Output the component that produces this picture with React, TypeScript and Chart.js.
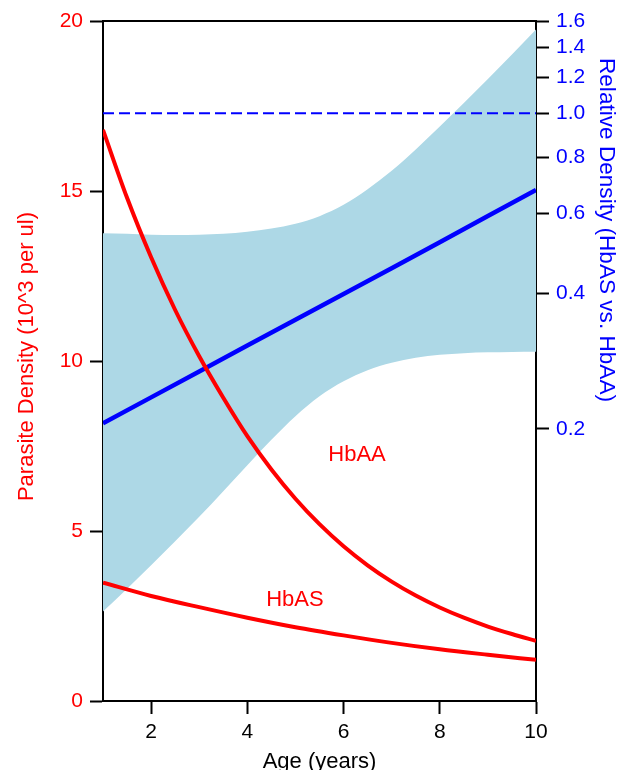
import React, { useEffect, useRef } from "react";
import { Chart, registerables } from "chart.js";

Chart.register(...registerables);

// ---- Data ----
const ages = [1, 2, 3, 4, 5, 6, 7, 8, 9, 10];
const halfAges = [1, 1.5, 2, 2.5, 3, 3.5, 4, 4.5, 5, 5.5, 6, 6.5, 7, 7.5, 8, 8.5, 9, 9.5, 10];

// Parasite density (10^3 per ul), left axis
const hbAA = [16.8, 14.8, 13.05, 11.5, 10.14, 8.92, 7.79, 6.81, 5.95, 5.2, 4.55, 3.99, 3.51, 3.1, 2.75, 2.45, 2.19, 1.97, 1.77]; // at halfAges
const hbAS = [3.48, 3.09, 2.76, 2.45, 2.17, 1.93, 1.71, 1.52, 1.36, 1.21]; // at ages

// Relative density (HbAS vs. HbAA), right log axis
const relDensity = [0.206, 0.235, 0.268, 0.306, 0.349, 0.398, 0.454, 0.518, 0.592, 0.676]; // at ages
const bandUpper = [0.5427, 0.5408, 0.5381, 0.5375, 0.5381, 0.5408, 0.5463, 0.5554, 0.5696, 0.5918, 0.6269, 0.6784, 0.7454, 0.8316, 0.935, 1.0539, 1.191, 1.349, 1.532]; // at halfAges
const bandLower = [0.0789, 0.0886, 0.0999, 0.1129, 0.1279, 0.1457, 0.1663, 0.1893, 0.2134, 0.2362, 0.255, 0.2698, 0.2803, 0.2874, 0.2919, 0.2944, 0.2956, 0.2961, 0.2964]; // at halfAges
const referenceLevel = 1.0;
const referenceAges = [1, 10];

const xTicks = [2, 4, 6, 8, 10];
const leftTicks = [0, 5, 10, 15, 20];
const rightTicks = [0.2, 0.4, 0.6, 0.8, 1.0, 1.2, 1.4, 1.6];

const curveLabels = [
  { text: "HbAA", age: 6.28, density: 7.24 },
  { text: "HbAS", age: 4.99, density: 2.97 },
];

const xTitle = "Age (years)";
const leftTitle = "Parasite Density (10^3 per ul)";
const rightTitle = "Relative Density (HbAS vs. HbAA)";

// ---- Styles ----
const RED = "rgb(255,0,0)";
const BLUE = "rgb(0,0,255)";
const BAND = "rgb(173,216,230)";
const FONT = '"Liberation Sans", Arial, sans-serif';

const toXY = (xs: number[], ys: number[]) => xs.map((a, i) => ({ x: a, y: ys[i] }));

const overlayPlugin = {
  id: "overlay",
  afterDraw(chart: any) {
    const { ctx, chartArea, scales } = chart;
    ctx.save();
    // top frame line
    ctx.strokeStyle = "black";
    ctx.lineWidth = 2;
    ctx.beginPath();
    ctx.moveTo(chartArea.left - 1, chartArea.top);
    ctx.lineTo(chartArea.right + 1, chartArea.top);
    ctx.stroke();

    // curve labels
    ctx.font = `22px ${FONT}`;
    ctx.fillStyle = RED;
    ctx.textAlign = "center";
    ctx.textBaseline = "middle";
    curveLabels.forEach((l) => {
      ctx.fillText(l.text, scales.x.getPixelForValue(l.age), scales.y.getPixelForValue(l.density));
    });

    // axis titles
    ctx.textBaseline = "alphabetic";
    ctx.fillStyle = "black";
    ctx.fillText(xTitle, (chartArea.left + chartArea.right) / 2, 767.5);

    ctx.save();
    ctx.translate(32.5, 356.5);
    ctx.rotate(-Math.PI / 2);
    ctx.fillStyle = RED;
    ctx.fillText(leftTitle, 0, 0);
    ctx.restore();

    ctx.save();
    ctx.font = `22.6px ${FONT}`;
    ctx.translate(600, 230);
    ctx.rotate(Math.PI / 2);
    ctx.fillStyle = BLUE;
    ctx.fillText(rightTitle, 0, 0);
    ctx.restore();

    ctx.restore();
  },
};

const axisGrid = {
  drawOnChartArea: false,
  drawTicks: true,
  tickLength: 13,
  tickWidth: 2,
  tickColor: "black",
};
const axisBorder = { display: true, color: "black", width: 2 };

export default function App() {
  const ref = useRef<HTMLCanvasElement | null>(null);

  useEffect(() => {
    if (!ref.current) return;
    const chart = new Chart(ref.current, {
      type: "line",
      data: {
        datasets: [
          {
            label: "HbAA",
            data: toXY(halfAges, hbAA),
            yAxisID: "y",
            borderColor: RED,
            borderWidth: 4,
            pointRadius: 0,
            cubicInterpolationMode: "monotone",
            fill: false,
            order: 1,
          },
          {
            label: "HbAS",
            data: toXY(ages, hbAS),
            yAxisID: "y",
            borderColor: RED,
            borderWidth: 4,
            pointRadius: 0,
            cubicInterpolationMode: "monotone",
            fill: false,
            order: 1,
          },
          {
            label: "Relative density",
            data: toXY(ages, relDensity),
            yAxisID: "y2",
            borderColor: BLUE,
            borderWidth: 4.5,
            pointRadius: 0,
            fill: false,
            order: 2,
          },
          {
            label: "Reference",
            data: referenceAges.map((a) => ({ x: a, y: referenceLevel })),
            yAxisID: "y2",
            borderColor: BLUE,
            borderWidth: 2,
            borderDash: [11, 5],
            pointRadius: 0,
            fill: false,
            order: 3,
          },
          {
            label: "Upper",
            data: toXY(halfAges, bandUpper),
            yAxisID: "y2",
            borderColor: "rgba(0,0,0,0)",
            borderWidth: 0,
            pointRadius: 0,
            cubicInterpolationMode: "monotone",
            backgroundColor: BAND,
            fill: "+1",
            order: 10,
          },
          {
            label: "Lower",
            data: toXY(halfAges, bandLower),
            yAxisID: "y2",
            borderColor: "rgba(0,0,0,0)",
            borderWidth: 0,
            pointRadius: 0,
            cubicInterpolationMode: "monotone",
            fill: false,
            order: 10,
          },
        ],
      },
      options: {
        responsive: false,
        animation: false,
        layout: { padding: { top: 21, left: 0, right: 0, bottom: 0 } },
        plugins: { legend: { display: false }, tooltip: { enabled: false } },
        scales: {
          x: {
            type: "linear",
            min: 1,
            max: 10,
            afterBuildTicks: (s: any) => {
              s.ticks = xTicks.map((v) => ({ value: v }));
            },
            afterFit: (s: any) => {
              s.height = 69;
            },
            ticks: {
              color: "black",
              font: { size: 21, family: FONT },
              padding: 6,
              maxRotation: 0,
              autoSkip: false,
            },
            grid: axisGrid,
            border: axisBorder,
          },
          y: {
            type: "linear",
            position: "left",
            min: 0,
            max: 20,
            afterBuildTicks: (s: any) => {
              s.ticks = leftTicks.map((v) => ({ value: v }));
            },
            afterFit: (s: any) => {
              s.width = 103;
            },
            ticks: {
              color: RED,
              font: { size: 21, family: FONT },
              padding: 7,
              autoSkip: false,
            },
            grid: axisGrid,
            border: axisBorder,
          },
          y2: {
            type: "logarithmic",
            position: "right",
            min: 0.05,
            max: 1.6,
            afterBuildTicks: (s: any) => {
              s.ticks = rightTicks.map((v) => ({ value: v }));
            },
            afterFit: (s: any) => {
              s.width = 91;
            },
            ticks: {
              color: BLUE,
              font: { size: 21, family: FONT },
              padding: 7,
              autoSkip: false,
              callback: (v: any) => Number(v).toFixed(1),
            },
            grid: axisGrid,
            border: axisBorder,
          },
        },
      },
      plugins: [overlayPlugin],
    } as any);
    return () => chart.destroy();
  }, []);

  return (
    <div style={{ position: "absolute", left: 0, top: 0, width: 627, height: 770, background: "white" }}>
      <canvas ref={ref} width={627} height={770} />
    </div>
  );
}
